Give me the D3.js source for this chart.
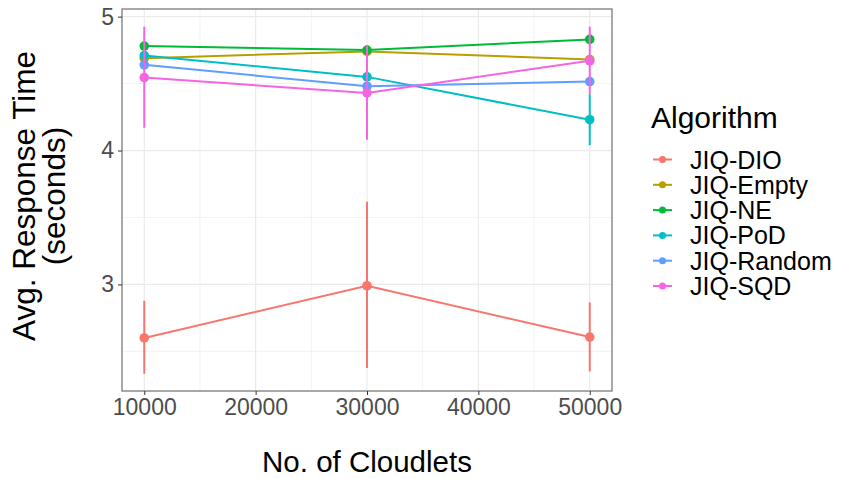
<!DOCTYPE html>
<html lang="en">
<head>
<meta charset="UTF-8">
<title>Avg. Response Time by No. of Cloudlets</title>
<script src="https://cdn.jsdelivr.net/npm/d3@7"></script>
<style>
	body { margin: 0; background: #fff; }
	svg text { font-family: "Liberation Sans", Arial, sans-serif; }
	.grid line { stroke: #ebebeb; }
	.axis path { display: none; }
	.axis line { stroke: #333; }
	.axis text { fill: #4d4d4d; font-size: 23px; }
</style>
</head>
<body>
<div id="chart"></div>
<script>
	// data
	var cloudlets = [10000, 30000, 50000];
	var algorithms = ["JIQ-DIO", "JIQ-Empty", "JIQ-NE", "JIQ-PoD", "JIQ-Random", "JIQ-SQD"];
	var colors = ["#F8766D", "#B79F00", "#00BA38", "#00BFC4", "#619CFF", "#F564E3"];

	var dioMean = [2.60, 2.99, 2.607];
	var dioLow = [2.333, 2.376, 2.35];
	var dioHigh = [2.878, 3.617, 2.866];

	var emptyMean = [4.69, 4.74, 4.68];
	var emptyLow = [4.66, 4.71, 4.65];
	var emptyHigh = [4.72, 4.77, 4.71];

	var neMean = [4.78, 4.75, 4.83];
	var neLow = [4.75, 4.72, 4.80];
	var neHigh = [4.81, 4.78, 4.86];

	var podMean = [4.71, 4.55, 4.23];
	var podLow = [4.68, 4.52, 4.04];
	var podHigh = [4.74, 4.58, 4.42];

	var randomMean = [4.64, 4.48, 4.515];
	var randomLow = [4.61, 4.45, 4.485];
	var randomHigh = [4.67, 4.51, 4.545];

	var sqdMean = [4.545, 4.43, 4.67];
	var sqdLow = [4.17, 4.08, 4.42];
	var sqdHigh = [4.925, 4.78, 4.925];

	var yTicks = [3, 4, 5];
	var yMinor = [2.5, 3.5, 4.5];
	var xTicks = [10000, 20000, 30000, 40000, 50000];
	var xMinor = [15000, 25000, 35000, 45000];

	var series = [
		{ mean: dioMean, low: dioLow, high: dioHigh },
		{ mean: emptyMean, low: emptyLow, high: emptyHigh },
		{ mean: neMean, low: neLow, high: neHigh },
		{ mean: podMean, low: podLow, high: podHigh },
		{ mean: randomMean, low: randomLow, high: randomHigh },
		{ mean: sqdMean, low: sqdLow, high: sqdHigh }
	].map(function(s, i) {
		return {
			name: algorithms[i],
			color: colors[i],
			values: cloudlets.map(function(c, j) {
				return { x: c, y: s.mean[j], lo: s.low[j], hi: s.high[j] };
			})
		};
	});

	var width = 841, height = 479;
	var panel = { left: 122, right: 612, top: 9, bottom: 391 };

	var svg = d3.select("#chart").append("svg")
		.attr("width", width)
		.attr("height", height);

	var x = d3.scaleLinear().domain([8000, 52000]).range([panel.left, panel.right]);
	var y = d3.scaleLinear().domain([2.204, 5.057]).range([panel.bottom, panel.top]);

	// grid
	var grid = svg.append("g").attr("class", "grid");
	grid.selectAll(".ymin").data(yMinor).enter().append("line")
		.attr("x1", panel.left).attr("x2", panel.right)
		.attr("y1", function(d){ return y(d); }).attr("y2", function(d){ return y(d); })
		.attr("stroke-width", 0.6);
	grid.selectAll(".xmin").data(xMinor).enter().append("line")
		.attr("y1", panel.top).attr("y2", panel.bottom)
		.attr("x1", function(d){ return x(d); }).attr("x2", function(d){ return x(d); })
		.attr("stroke-width", 0.6);
	grid.selectAll(".ymaj").data(yTicks).enter().append("line")
		.attr("x1", panel.left).attr("x2", panel.right)
		.attr("y1", function(d){ return y(d); }).attr("y2", function(d){ return y(d); })
		.attr("stroke-width", 1.2);
	grid.selectAll(".xmaj").data(xTicks).enter().append("line")
		.attr("y1", panel.top).attr("y2", panel.bottom)
		.attr("x1", function(d){ return x(d); }).attr("x2", function(d){ return x(d); })
		.attr("stroke-width", 1.2);

	var line = d3.line()
		.x(function(d){ return x(d.x); })
		.y(function(d){ return y(d.y); });

	var plot = svg.append("g");

	plot.selectAll(".series-line").data(series).enter().append("path")
		.attr("fill", "none")
		.attr("stroke", function(d){ return d.color; })
		.attr("stroke-width", 2)
		.attr("d", function(d){ return line(d.values); });

	series.forEach(function(s) {
		var g = plot.append("g");
		g.selectAll("line").data(s.values).enter().append("line")
			.attr("x1", function(d){ return x(d.x); })
			.attr("x2", function(d){ return x(d.x); })
			.attr("y1", function(d){ return y(d.lo); })
			.attr("y2", function(d){ return y(d.hi); })
			.attr("stroke", s.color)
			.attr("stroke-width", 2);
		g.selectAll("circle").data(s.values).enter().append("circle")
			.attr("cx", function(d){ return x(d.x); })
			.attr("cy", function(d){ return y(d.y); })
			.attr("r", 4.8)
			.attr("fill", s.color);
	});

	// panel border
	svg.append("rect")
		.attr("x", panel.left).attr("y", panel.top)
		.attr("width", panel.right - panel.left)
		.attr("height", panel.bottom - panel.top)
		.attr("fill", "none")
		.attr("stroke", "#8c8c8c")
		.attr("stroke-width", 1.5);

	// axes
	svg.append("g")
		.attr("class", "axis")
		.attr("transform", "translate(0," + panel.bottom + ")")
		.call(d3.axisBottom(x).tickValues(xTicks).tickFormat(d3.format("d")).tickSize(4).tickPadding(4));

	svg.append("g")
		.attr("class", "axis")
		.attr("transform", "translate(" + panel.left + ",0)")
		.call(d3.axisLeft(y).tickValues(yTicks).tickFormat(d3.format("d")).tickSize(4).tickPadding(4));

	// axis titles
	svg.append("text")
		.attr("x", (panel.left + panel.right) / 2)
		.attr("y", 472)
		.attr("text-anchor", "middle")
		.attr("font-size", 29.5)
		.attr("fill", "#000")
		.text("No. of Cloudlets");

	var ytitle = svg.append("text")
		.attr("transform", "translate(35,196) rotate(-90)")
		.attr("text-anchor", "middle")
		.attr("font-size", 31.5)
		.attr("fill", "#000");
	ytitle.append("tspan").attr("x", 0).attr("y", 0).text("Avg. Response Time");
	ytitle.append("tspan").attr("x", 0).attr("y", 30).text("(seconds)");

	// legend
	var legend = svg.append("g").attr("transform", "translate(651,0)");
	legend.append("text")
		.attr("x", 0).attr("y", 128)
		.attr("font-size", 30)
		.attr("fill", "#000")
		.text("Algorithm");

	var keyY = d3.scalePoint().domain(algorithms).range([159.5, 286]);
	var items = legend.selectAll(".item").data(series).enter().append("g")
		.attr("transform", function(d){ return "translate(0," + keyY(d.name) + ")"; });
	items.append("line")
		.attr("x1", 2).attr("x2", 21)
		.attr("stroke", function(d){ return d.color; })
		.attr("stroke-width", 2);
	items.append("circle")
		.attr("cx", 11.5).attr("r", 3.5)
		.attr("fill", function(d){ return d.color; });
	items.append("text")
		.attr("x", 39).attr("y", 9)
		.attr("font-size", 25)
		.attr("fill", "#000")
		.text(function(d){ return d.name; });
</script>
</body>
</html>
